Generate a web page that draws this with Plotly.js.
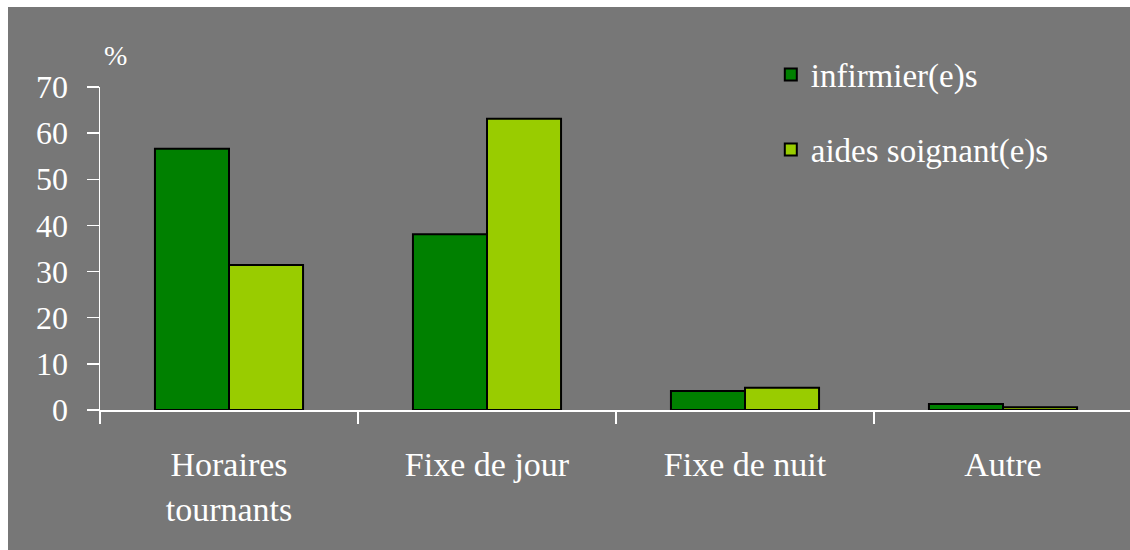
<!DOCTYPE html>
<html>
<head>
<meta charset="utf-8">
<script src="https://cdn.plot.ly/plotly-3.0.1.min.js"></script>
<style>
  html, body { margin: 0; padding: 0; background: #ffffff; overflow: hidden; width: 1130px; height: 550px; }
  #chart { position: absolute; left: 8px; top: 7px; width: 1140px; height: 543px; }
</style>
</head>
<body>
<div id="chart"></div>
<script>
const categories = ["Horaires<br>tournants", "Fixe de jour", "Fixe de nuit", "Autre"];
const seriesNames = ["infirmier(e)s", "aides soignant(e)s"];
const infirmiers = [56.6, 38.1, 4.1, 1.3];
const aidesSoignants = [31.4, 63.1, 4.8, 0.6];
const yTickValues = [0, 10, 20, 30, 40, 50, 60, 70];
const yUnitLabel = "%";

const serif = "Liberation Serif";

const traces = [
  {
    type: "bar", name: seriesNames[0], x: categories, y: infirmiers,
    legendgroup: "g1",
    marker: { color: "#008000", line: { color: "#000000", width: 2 } }
  },
  {
    type: "bar", name: seriesNames[1], x: categories, y: aidesSoignants,
    legendgroup: "g2",
    marker: { color: "#99CC00", line: { color: "#000000", width: 2 } }
  }
];

const layout = {
  width: 1140, height: 543,
  margin: { l: 92, r: 16, t: 80, b: 140 },
  font: { family: serif, color: "#ffffff" },
  paper_bgcolor: "#777777",
  plot_bgcolor: "#777777",
  barmode: "group",
  bargap: 0.426,
  bargroupgap: 0,
  showlegend: true,
  legend: {
    x: 0.650, y: 1.125, xanchor: "left", yanchor: "top",
    bgcolor: "rgba(0,0,0,0)",
    traceorder: "grouped",
    tracegroupgap: 29,
    font: { family: serif, size: 33, color: "#ffffff" }
  },
  xaxis: {
    type: "category",
    showline: true, linecolor: "#ffffff", linewidth: 1.5,
    ticks: "outside", tickson: "boundaries", ticklen: 12, tickcolor: "#ffffff", tickwidth: 1.5,
    showgrid: false, zeroline: false,
    tickfont: { family: serif, size: 34, color: "#ffffff" },
    ticklabelstandoff: 24,
    fixedrange: true
  },
  yaxis: {
    range: [0, 70],
    tickmode: "array", tickvals: yTickValues, ticktext: yTickValues.map(String),
    showline: true, linecolor: "#ffffff", linewidth: 1.5,
    ticks: "outside", ticklen: 12, tickcolor: "#ffffff", tickwidth: 1.5,
    showgrid: false, zeroline: false,
    tickfont: { family: serif, size: 32, color: "#ffffff" },
    ticklabelstandoff: 12,
    fixedrange: true
  },
  annotations: [
    {
      text: yUnitLabel, xref: "paper", yref: "paper", x: 0.0155, y: 1.096,
      xanchor: "center", yanchor: "middle", showarrow: false,
      font: { family: serif, size: 28, color: "#ffffff" }
    }
  ]
};

Plotly.newPlot("chart", traces, layout, { displayModeBar: false, staticPlot: true });
</script>
</body>
</html>
